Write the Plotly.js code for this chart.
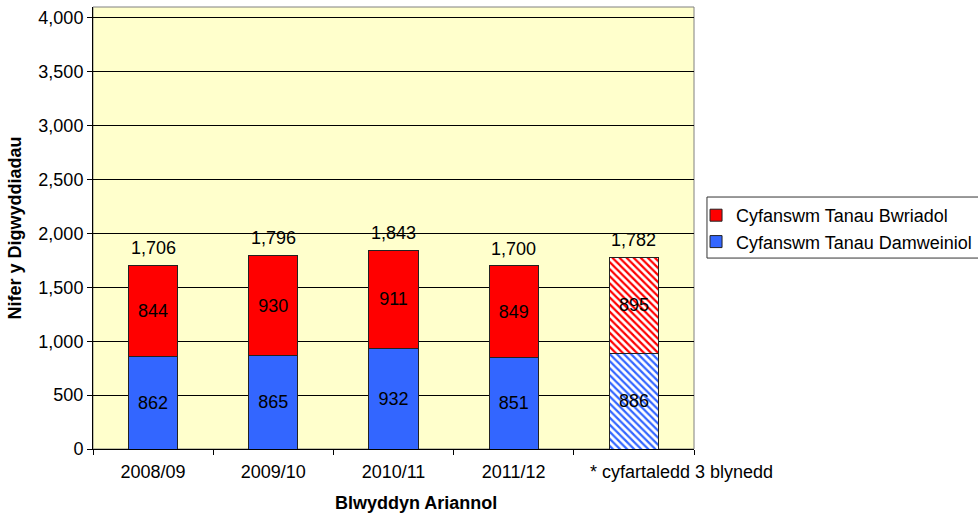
<!DOCTYPE html>
<html>
<head>
<meta charset="utf-8">
<script src="https://cdn.plot.ly/plotly-3.0.1.min.js"></script>
<style>body{margin:0;padding:0;background:#fff;overflow:hidden;} #chart{width:978px;height:513px;}</style>
</head>
<body>
<div id="chart"></div>
<script>
const categories = ['2008/09', '2009/10', '2010/11', '2011/12', '* cyfartaledd 3 blynedd'];
const damweiniol = [862, 865, 932, 851, 886];
const bwriadol = [844, 930, 911, 849, 895];
const totals = [1706, 1796, 1843, 1700, 1782];
const seriesNames = ['Cyfanswm Tanau Damweiniol', 'Cyfanswm Tanau Bwriadol'];
const yTicks = [0, 500, 1000, 1500, 2000, 2500, 3000, 3500, 4000];
const xTitle = 'Blwyddyn Ariannol';
const yTitle = 'Nifer y Digwyddiadau';

const FONT = 'Liberation Sans, Arial, sans-serif';
const FS = 18;
const fmt = v => v.toLocaleString('en-US');
const hatchIdx = categories.length - 1;

function barTrace(name, values, color) {
  return {
    type: 'bar',
    name: name,
    x: categories,
    y: values,
    width: 0.41,
    text: values.map(String),
    textposition: 'inside',
    insidetextanchor: 'middle',
    textfont: {family: FONT, size: FS, color: '#000'},
    hoverinfo: 'x+y+name',
    marker: {
      color: color,
      line: {color: '#222', width: 1},
      pattern: {
        shape: categories.map((c, i) => i === hatchIdx ? '\\' : ''),
        bgcolor: '#ffffff',
        size: 5,
        solidity: 0.45,
        fillmode: 'replace'
      }
    }
  };
}

const traces = [
  barTrace(seriesNames[0], damweiniol, '#3366FF'),
  barTrace(seriesNames[1], bwriadol, '#FF0000')
];

// total labels above each stack
const annotations = categories.map((c, i) => ({
  x: c, y: totals[i], xref: 'x', yref: 'y',
  text: fmt(totals[i]), showarrow: false,
  yanchor: 'bottom', yshift: 5,
  font: {family: FONT, size: FS, color: '#000'}
}));
// last category label, shifted right as in the original
annotations.push({
  x: categories[hatchIdx], y: 0, xref: 'x', yref: 'paper',
  text: categories[hatchIdx], showarrow: false,
  xanchor: 'center', yanchor: 'middle', xshift: 48, yshift: -23,
  font: {family: FONT, size: FS, color: '#000'}
});
// x axis title (slightly right of centre, as in the original)
annotations.push({
  x: 0.5, y: 0, xref: 'paper', yref: 'paper',
  text: '<b>' + xTitle + '</b>', showarrow: false,
  xanchor: 'center', yanchor: 'middle', xshift: 22, yshift: -54,
  font: {family: FONT, size: FS, color: '#000'}
});

const layout = {
  width: 978,
  height: 513,
  margin: {l: 93, r: 284, t: 7, b: 64},
  paper_bgcolor: '#ffffff',
  plot_bgcolor: '#FFFFCC',
  barmode: 'stack',
  font: {family: FONT, size: FS, color: '#000'},
  showlegend: true,
  legend: {
    xref: 'container', yref: 'container',
    x: 0.7117, xanchor: 'left',
    y: 0.616, yanchor: 'top',
    traceorder: 'reversed',
    bgcolor: 'rgba(0,0,0,0)',
    borderwidth: 0,
    font: {family: FONT, size: FS, color: '#000'},
    itemwidth: 30,
    tracegroupgap: 0
  },
  xaxis: {
    type: 'category',
    automargin: false,
    range: [-0.5, categories.length - 0.5],
    showgrid: false,
    ticks: 'outside',
    tickson: 'boundaries',
    ticklen: 5,
    tickcolor: '#000',
    tickangle: 0,
    tickvals: categories,
    ticktext: categories.map((c, i) => i === hatchIdx ? '' : c),
    ticklabelstandoff: 6,
    showline: true,
    linecolor: '#000',
    linewidth: 1,
    tickfont: {family: FONT, size: FS}
  },
  yaxis: {
    automargin: false,
    range: [0, 4102],
    tickvals: yTicks,
    ticktext: yTicks.map(fmt),
    showgrid: true,
    gridcolor: '#000',
    gridwidth: 1,
    zeroline: false,
    ticks: 'outside',
    ticklen: 5,
    tickcolor: '#000',
    showline: true,
    linecolor: '#000',
    linewidth: 1,
    tickfont: {family: FONT, size: FS},
    title: {text: '<b>' + yTitle + '</b>', font: {family: FONT, size: FS}, standoff: 12}
  },
  annotations: annotations,
  shapes: [
    {
      type: 'rect', xref: 'paper', yref: 'paper', x0: 0, x1: 1, y0: 0, y1: 1,
      line: {color: '#808080', width: 1}, fillcolor: 'rgba(0,0,0,0)', layer: 'below'
    },
    {
      // legend frame (right side runs past the page edge, as in the original)
      type: 'rect', xref: 'paper', yref: 'paper', x0: 1.0216, x1: 1.5, y0: 0.432, y1: 0.5701,
      line: {color: '#333', width: 1}, fillcolor: 'rgba(0,0,0,0)', layer: 'above'
    }
  ]
};

Plotly.newPlot('chart', traces, layout, {displayModeBar: false, staticPlot: true});
</script>
</body>
</html>
